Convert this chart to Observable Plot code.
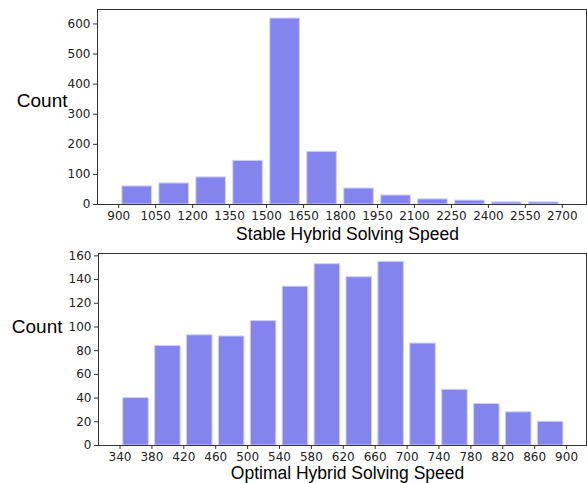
<!DOCTYPE html>
<html>
<head>
<meta charset="utf-8">
<script src="https://cdn.jsdelivr.net/npm/d3@7"></script>
<script src="https://cdn.jsdelivr.net/npm/@observablehq/plot@0.6"></script>
<style>
  html, body { margin: 0; padding: 0; background: #fff; }
  #chart { width: 587px; }
  #chart svg { display: block; }
  #chart svg g[aria-label$="tick label"] text { font-family: "DejaVu Sans", sans-serif; font-size: 12px; fill: #222; }
</style>
</head>
<body>
<div id="chart"></div>
<script>
// Top histogram: Stable Hybrid Solving Speed
const stableEdges = [900, 1050, 1200, 1350, 1500, 1650, 1800, 1950, 2100, 2250, 2400, 2550, 2700];
const stableCounts = [60, 70, 90, 145, 618, 175, 53, 30, 17, 13, 7, 7];
const stableYTicks = [0, 100, 200, 300, 400, 500, 600];

// Bottom histogram: Optimal Hybrid Solving Speed
const optimalEdges = [340, 380, 420, 460, 500, 540, 580, 620, 660, 700, 740, 780, 820, 860, 900];
const optimalCounts = [40, 84, 93, 92, 105, 134, 153, 142, 155, 86, 47, 35, 28, 20];
const optimalYTicks = [0, 20, 40, 60, 80, 100, 120, 140, 160];

const FILL = "#8484ef";
const EDGE = "#cfcffb";
const RWIDTH = 0.8;

function binsOf(edges, counts) {
  return counts.map((c, i) => {
    const lo = edges[i], hi = edges[i + 1], w = hi - lo;
    return {x1: lo + (1 - RWIDTH) / 2 * w, x2: hi - (1 - RWIDTH) / 2 * w, y: c};
  });
}

function makeChart({edges, counts, yTicks, xDomain, yDomain, height, mt, mb, ml, mr, xLabel, countDx, countDy, labelDx, labelDy}) {
  return Plot.plot({
    width: 587,
    height,
    marginTop: mt,
    marginBottom: mb,
    marginLeft: ml,
    marginRight: mr,
    style: {fontFamily: "'DejaVu Sans', sans-serif", fontSize: "12px", color: "#222", background: "#fff"},
    x: {domain: xDomain, label: null},
    y: {domain: yDomain, label: null},
    marks: [
      Plot.rectY(binsOf(edges, counts), {x1: "x1", x2: "x2", y: "y", fill: FILL, stroke: EDGE, strokeWidth: 1}),
      Plot.axisX({ticks: edges, tickFormat: d => String(d), tickSize: 4, tickPadding: 3, stroke: "#333", label: null}),
      Plot.axisY({ticks: yTicks, tickFormat: d => String(d), tickSize: 4, tickPadding: 3, stroke: "#333", label: null}),
      Plot.frame({stroke: "#333", strokeWidth: 1}),
      Plot.text(["Count"], {frameAnchor: "left", dx: countDx, dy: countDy, textAnchor: "end", fontSize: 19, fontFamily: "Liberation Sans", fill: "#000"}),
      Plot.text([xLabel], {frameAnchor: "bottom", dx: labelDx, dy: labelDy, lineAnchor: "middle", fontSize: 17.5, fontFamily: "Liberation Sans", fill: "#000"})
    ]
  });
}

const chart = document.getElementById("chart");
chart.appendChild(makeChart({
  edges: stableEdges, counts: stableCounts, yTicks: stableYTicks,
  xDomain: [814, 2798], yDomain: [0, 648],
  height: 243, mt: 9, mb: 39, ml: 97, mr: 1,
  xLabel: "Stable Hybrid Solving Speed", countDx: -30, countDy: -6, labelDx: 5.5, labelDy: 30
}));
chart.appendChild(makeChart({
  edges: optimalEdges, counts: optimalCounts, yTicks: optimalYTicks,
  xDomain: [313, 925], yDomain: [0, 162],
  height: 240, mt: 10, mb: 38, ml: 98, mr: 1,
  xLabel: "Optimal Hybrid Solving Speed", countDx: -36, countDy: -23, labelDx: 5, labelDy: 28
}));
</script>
</body>
</html>
